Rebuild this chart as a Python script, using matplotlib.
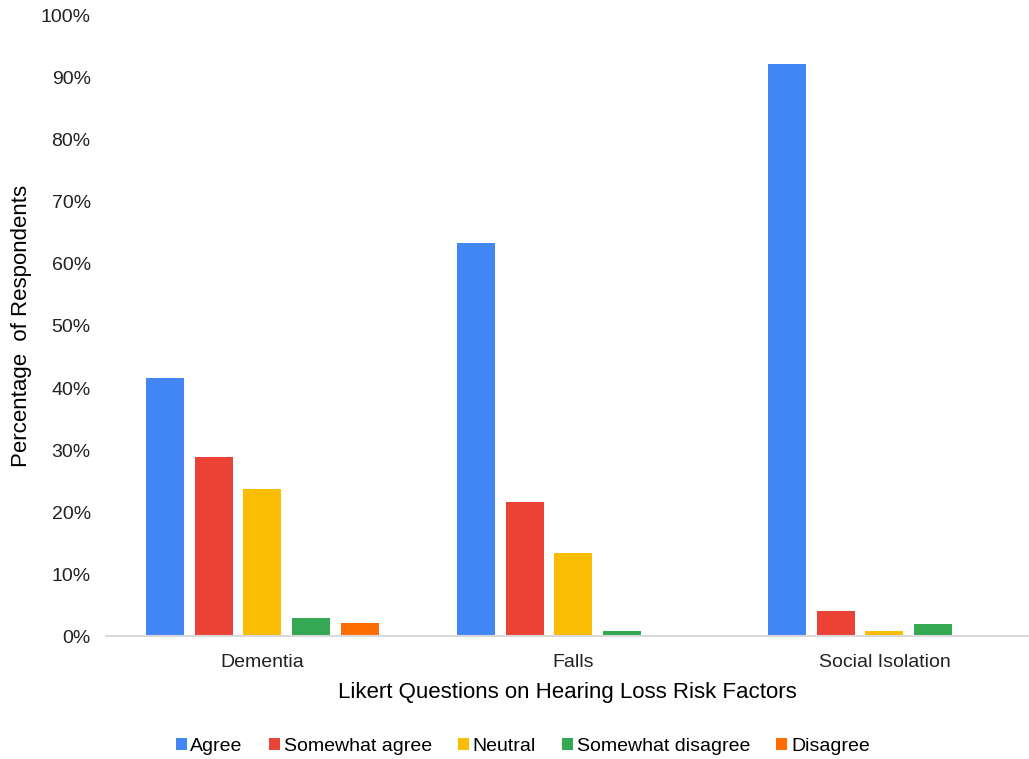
import numpy as np
import matplotlib.pyplot as plt
from matplotlib.ticker import PercentFormatter

plt.rcParams['font.family'] = ['Liberation Sans', 'DejaVu Sans']

categories = ['Dementia', 'Falls', 'Social Isolation']
series = ['Agree', 'Somewhat agree', 'Neutral', 'Somewhat disagree', 'Disagree']
agree = [41.6, 63.4, 92.3]
somewhat_agree = [28.9, 21.6, 4.0]
neutral = [23.7, 13.4, 0.8]
somewhat_disagree = [2.9, 0.8, 1.9]
disagree = [2.1, 0.0, 0.0]
colors = ['#4285F4', '#EA4335', '#FBBC04', '#34A853', '#FF6D01']

values = [agree, somewhat_agree, neutral, somewhat_disagree, disagree]

fig = plt.figure(figsize=(10.29, 7.59), dpi=100)
ax = fig.add_axes([0.103, 0.162, 0.897, 0.817])

x = np.arange(len(categories))
step = 0.1566
width = 0.122
for i, (name, vals) in enumerate(zip(series, values)):
    ax.bar(x + (i - 2) * step, vals, width, color=colors[i], label=name, zorder=2)

ax.set_xlim(-0.503, 2.465)
ax.set_ylim(0, 100)
ax.set_yticks(np.arange(0, 101, 10))
ax.yaxis.set_major_formatter(PercentFormatter(decimals=0))
ax.set_xticks(x)
ax.set_xticklabels(categories)
ax.tick_params(axis='both', length=0, labelsize=14, colors='#222222')
ax.tick_params(axis='x', pad=13)
ax.tick_params(axis='y', pad=11)

for s in ['top', 'right', 'left']:
    ax.spines[s].set_visible(False)
ax.spines['bottom'].set_color('#d9d9d9')
ax.spines['bottom'].set_linewidth(1.5)

ax.set_xlabel('Likert Questions on Hearing Loss Risk Factors', fontsize=16, labelpad=8)
ax.set_ylabel('Percentage  of Respondents', fontsize=16, labelpad=6)

fig.legend(loc='center', bbox_to_anchor=(0.508, 0.017), ncol=5, frameon=False,
           fontsize=14, handlelength=0.55, handleheight=0.55, handletextpad=0.2,
           columnspacing=1.35)

fig.savefig('out.png', dpi=100)
